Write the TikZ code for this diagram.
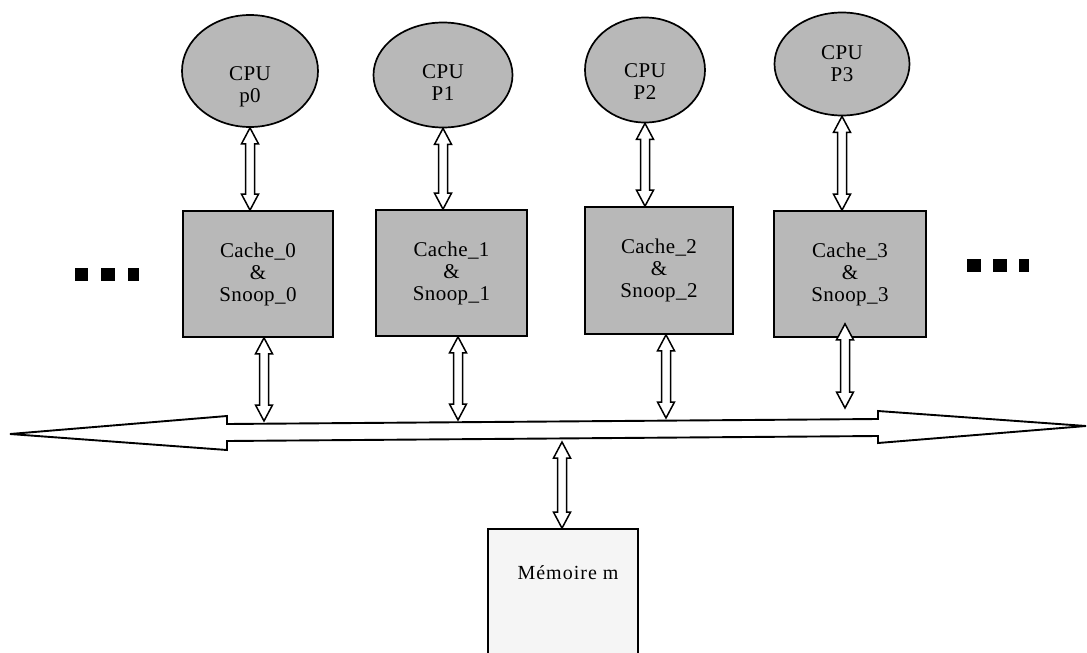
\documentclass[tikz,border=0pt]{standalone}
\usepackage{fontspec}
\newfontfamily\lblfont[LetterSpace=2]{Liberation Serif}
\newfontfamily\memfont[LetterSpace=5]{Liberation Serif}
\usetikzlibrary{shapes.geometric,calc}
\definecolor{fillg}{gray}{0.72}
\definecolor{memg}{gray}{0.96}
\newcommand\dblv[2]{%
  \draw[dblarrow] let \p1=#1, \p2=#2 in
    (\x1,\y1) -- ++(8.5pt,-16pt) -- ++(-4pt,0pt) -- (\x1+4.5pt,\y2+16pt)
    -- ++(4pt,0pt) -- (\x1,\y2) -- ++(-8.5pt,16pt) -- ++(4pt,0pt)
    -- (\x1-4.5pt,\y1-16pt) -- ++(-4pt,0pt) -- cycle;}
\tikzset{
  lbl/.style={font=\lblfont\fontsize{21}{22}\selectfont, align=center, inner sep=0pt},
  cpu/.style={ellipse, draw=black, line width=1.7pt, fill=fillg, inner sep=0pt},
  cachebox/.style={rectangle, draw=black, line width=1.7pt, fill=fillg, inner sep=0pt,
    lbl},
  membox/.style={rectangle, draw=black, line width=1.7pt, fill=memg, inner sep=0pt},
  dblarrow/.style={draw=black, line width=1.5pt, fill=white, line join=miter},
  busstyle/.style={draw=black, line width=1.9pt, fill=white, line join=miter},
  dot/.style={fill=black}
}
\begin{document}
\begin{tikzpicture}[x=1pt,y=-1pt]
\useasboundingbox (0,0) rectangle (1087,653);
\clip (0,0) rectangle (1087,653);
\fill[white] (0,0) rectangle (1087,653);

% CPUs
\node[cpu, minimum width=136, minimum height=112,
  label={[lbl,yshift=-16pt]center:{CPU\\p0}}] (c0) at (250,71) {};
\node[cpu, minimum width=139, minimum height=105,
  label={[lbl,yshift=-8pt]center:{CPU\\P1}}] (c1) at (443,75) {};
\node[cpu, minimum width=120, minimum height=105,
  label={[lbl,yshift=-12pt]center:{CPU\\P2}}] (c2) at (645,70) {};
\node[cpu, minimum width=135, minimum height=103,
  label={[lbl,yshift=0pt]center:{CPU\\P3}}] (c3) at (842,64) {};

% Caches
\node[cachebox, minimum width=150, minimum height=126] (k0) at (258,274) {Cache\_0\\\&\\Snoop\_0};
\node[cachebox, minimum width=151, minimum height=126] (k1) at (451.5,273) {Cache\_1\\\&\\Snoop\_1};
\node[cachebox, minimum width=148, minimum height=127] (k2) at (659,270.5) {Cache\_2\\\&\\Snoop\_2};
\node[cachebox, minimum width=152, minimum height=126] (k3) at (850,274) {Cache\_3\\\&\\Snoop\_3};

% Dots
\fill[dot] (75,268) rectangle (88,281);
\fill[dot] (101,268) rectangle (115,281);
\fill[dot] (128,268) rectangle (139,281);
\fill[dot] (967,259) rectangle (981,272);
\fill[dot] (993,259) rectangle (1007,272);
\fill[dot] (1019,259) rectangle (1029,272);

% Bus
\draw[busstyle] (10,434) -- (227,416) -- (227,424) -- (878,419) -- (878,411)
  -- (1086,426) -- (878,443) -- (878,436) -- (227,441) -- (227,450) -- cycle;
\coordinate (bus0) at (264,421);
\coordinate (bus1) at (458,420);
\coordinate (bus2) at (666,418);
\coordinate (bus3) at (845,408);
\coordinate (busm) at (562,442);

% Memory
\node[membox, minimum width=150, minimum height=141] (mem) at (563,599.5) {};
\node[font=\memfont\fontsize{20}{22}\selectfont, inner sep=0pt] (memtxt) at (568,573) {Mémoire m};

% CPU <-> cache arrows
\dblv{(c0.south)}{(k0.north)}
\dblv{(c1.south)}{(k1.north)}
\dblv{(c2.south)}{(k2.north)}
\dblv{(c3.south)}{(k3.north)}

% cache <-> bus arrows
\dblv{(k0.south -| bus0)}{(bus0)}
\dblv{(k1.south -| bus1)}{(bus1)}
\dblv{(k2.south -| bus2)}{(bus2)}
\dblv{($(k3.south -| bus3)+(0,-14)$)}{(bus3)}

% bus <-> memory
\dblv{(busm)}{(mem.north)}
\end{tikzpicture}
\end{document}
